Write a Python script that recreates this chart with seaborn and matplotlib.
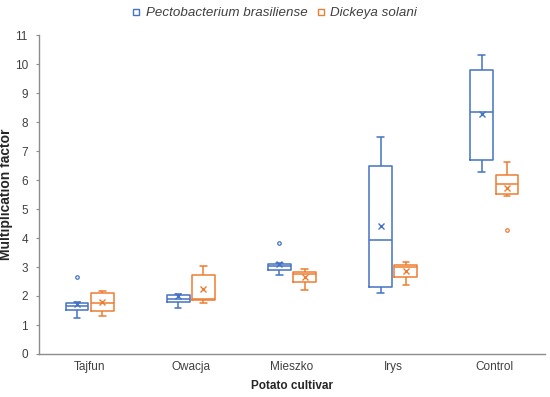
import pandas as pd
import seaborn as sns
import matplotlib.pyplot as plt
from matplotlib.lines import Line2D

cultivars = ["Tajfun", "Owacja", "Mieszko", "Irys", "Control"]
species = ["Pectobacterium brasiliense", "Dickeya solani"]
colors = ["#4472C4", "#ED7D31"]

# box statistics: whisker low, Q1, median, Q3, whisker high
pb_min = [1.24, 1.57, 2.71, 2.11, 6.28]
pb_q1 = [1.52, 1.78, 2.91, 2.32, 6.70]
pb_med = [1.64, 1.91, 3.03, 3.92, 8.34]
pb_q3 = [1.76, 2.05, 3.09, 6.49, 9.78]
pb_max = [1.78, 2.08, 3.15, 7.48, 10.32]
pb_mean = [1.71, 1.99, 3.09, 4.41, 8.29]
pb_outliers = {"Tajfun": [2.64], "Mieszko": [3.84]}

ds_min = [1.30, 1.77, 2.21, 2.39, 5.45]
ds_q1 = [1.49, 1.85, 2.47, 2.66, 5.53]
ds_med = [1.77, 1.89, 2.77, 2.99, 5.87]
ds_q3 = [2.11, 2.71, 2.83, 3.08, 6.17]
ds_max = [2.16, 3.05, 2.92, 3.16, 6.61]
ds_mean = [1.78, 2.23, 2.66, 2.86, 5.72]
ds_outliers = {"Control": [4.28]}

# Build long tables
rows, means, outl = [], [], []
for sp, stats, mn, out in [
    (species[0], [pb_min, pb_q1, pb_med, pb_q3, pb_max], pb_mean, pb_outliers),
    (species[1], [ds_min, ds_q1, ds_med, ds_q3, ds_max], ds_mean, ds_outliers),
]:
    for i, cv in enumerate(cultivars):
        for s in stats:
            rows.append({"cultivar": cv, "species": sp, "value": s[i]})
        means.append({"cultivar": cv, "species": sp, "value": mn[i]})
        for v in out.get(cv, []):
            outl.append({"cultivar": cv, "species": sp, "value": v})
df = pd.DataFrame(rows)
df_mean = pd.DataFrame(means)
df_out = pd.DataFrame(outl)

sns.set_style("white")
plt.rcParams["font.family"] = ["Liberation Sans", "DejaVu Sans"]

fig = plt.figure(figsize=(5.5, 3.97), dpi=100)
ax = fig.add_axes([39 / 550, 1 - 354 / 397, (545 - 39) / 550, (354 - 35) / 397])

sns.boxplot(data=df, x="cultivar", y="value", hue="species", order=cultivars,
            hue_order=species, palette=colors, fill=False, whis=(0, 100),
            width=0.5, gap=0.1, linewidth=1.1, capwidths=0.065, legend=False, ax=ax)

sns.pointplot(data=df_mean, x="cultivar", y="value", hue="species", order=cultivars,
              hue_order=species, palette=colors, dodge=0.25, linestyle="none",
              marker="x", markersize=4, markeredgewidth=1.0, errorbar=None,
              legend=False, ax=ax)

sns.pointplot(data=df_out, x="cultivar", y="value", hue="species", order=cultivars,
              hue_order=species, palette=colors, dodge=0.25, linestyle="none",
              marker="o", markersize=2.5, markerfacecolor="none", markeredgewidth=0.9,
              errorbar=None, legend=False, ax=ax)

ax.set_xlim(-0.5, 4.5)
ax.set_ylim(0, 11)
ax.set_yticks(range(0, 12))
ax.set_xticks(range(5))
ax.set_xticks([i - 0.5 for i in range(6)], minor=True)
ax.tick_params(axis="x", which="major", length=0, labelsize=8.5, labelcolor="#404040", pad=5)
ax.tick_params(axis="x", which="minor", length=3, color="#8C8C8C", direction="out")
ax.tick_params(axis="y", length=2, color="#8C8C8C", labelsize=8.5, labelcolor="#404040", pad=6, left=True)

for side in ["top", "right"]:
    ax.spines[side].set_visible(False)
for side in ["left", "bottom"]:
    ax.spines[side].set_color("#8C8C8C")
    ax.spines[side].set_linewidth(1.0)

ax.set_xlabel("Potato cultivar", fontsize=8.5, fontweight="bold", labelpad=5)
ax.set_ylabel("Multiplication factor", fontsize=10, fontweight="bold", labelpad=1)

handles = [Line2D([], [], linestyle="none", marker="s", markersize=5,
                  markerfacecolor="white", markeredgecolor=c, markeredgewidth=1.0)
           for c in colors]
fig.legend(handles, species, loc="center", bbox_to_anchor=(274 / 550, 1 - 13 / 397),
           ncol=2, frameon=False, handlelength=0.8, handletextpad=0.3, columnspacing=0.6,
           prop={"style": "italic", "size": 9.6}, labelcolor="#404040")

fig.savefig("out.png", dpi=100)
